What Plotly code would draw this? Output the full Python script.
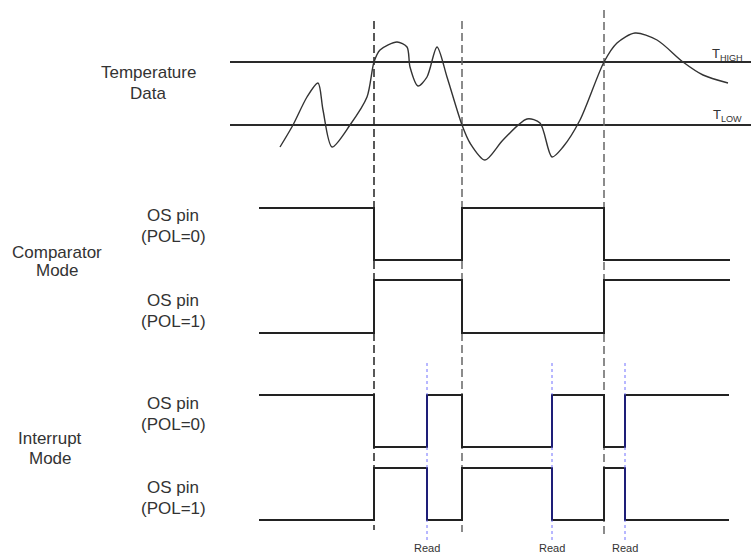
import plotly.graph_objects as go

# Temperature waveform (time, level) (level on a top-down scale)
temp_t = [280, 293, 307, 318, 323, 332, 350, 367, 374, 380, 397, 407, 410, 418, 427, 437, 447, 462,
          470, 485, 503, 527, 540, 552, 563, 580, 604, 617, 635, 657, 683, 703, 728]
temp_v = [147, 125, 97, 83, 110, 147, 125, 97, 62, 50, 42, 47, 67, 86, 77, 47, 77, 125,
          143, 160, 140, 119, 123, 157, 147, 120, 62, 43, 33, 40, 62, 75, 83]
t_high = 62
t_low = 125
threshold_span = [230, 751]

# Events: threshold crossings and host reads
cross_t = [374, 462, 604]
cross_top = [21, 21, 10]
cross_bottom = [530, 532, 535]
read_t = [427, 552, 625]
read_span = [363, 540]
read_labels = ["Read", "Read", "Read"]

# Comparator mode (POL=0) state per segment
comp_edges = [259, 374, 462, 604, 730]
comp_pol0 = [1, 0, 1, 0]
# Interrupt mode (POL=0) state per segment
int_edges = [259, 374, 427, 462, 552, 604, 625, 729]
int_pol0 = [1, 0, 1, 0, 1, 0, 1]

# Lane levels (high, low)
lanes = {
    "comp0": (208, 260),
    "comp1": (280, 333),
    "int0": (395, 447),
    "int1": (468, 520),
}

SIG = "#222222"
fig = go.Figure()

# thresholds
for yv in (t_high, t_low):
    fig.add_trace(go.Scatter(x=threshold_span, y=[yv, yv], mode="lines",
                             line=dict(color="#2a2a2a", width=2), hoverinfo="skip"))

# dashed crossing lines
for i, (xv, y0, y1) in enumerate(zip(cross_t, cross_top, cross_bottom)):
    fig.add_trace(go.Scatter(x=[xv, xv], y=[y0, y1], mode="lines",
                             line=dict(color="#222222" if i == 0 else "#666666", width=1.5,
                                       dash="8px,4px"), hoverinfo="skip"))

# temperature curve
fig.add_trace(go.Scatter(x=temp_t, y=temp_v, mode="lines",
                         line=dict(color="#333333", width=1.4, shape="spline", smoothing=0.8),
                         hoverinfo="skip"))


def wave(edges, states, lane, invert=False):
    hi, lo = lanes[lane]
    xs, ys = [], []
    for k, s in enumerate(states):
        if invert:
            s = 1 - s
        yv = hi if s else lo
        xs += [edges[k], edges[k + 1]]
        ys += [yv, yv]
    return xs, ys


for edges, states, lane, inv in [
    (comp_edges, comp_pol0, "comp0", False),
    (comp_edges, comp_pol0, "comp1", True),
    (int_edges, int_pol0, "int0", False),
    (int_edges, int_pol0, "int1", True),
]:
    xs, ys = wave(edges, states, lane, inv)
    fig.add_trace(go.Scatter(x=xs, y=ys, mode="lines",
                             line=dict(color=SIG, width=2), hoverinfo="skip"))

# read lines
for xv in read_t:
    fig.add_trace(go.Scatter(x=[xv, xv], y=read_span, mode="lines",
                             line=dict(color="#7070ff", width=1, dash="dot"), hoverinfo="skip"))
    for lane in ("int0", "int1"):
        hi, lo = lanes[lane]
        fig.add_trace(go.Scatter(x=[xv, xv], y=[hi, lo], mode="lines",
                                 line=dict(color="#1e1e78", width=2), hoverinfo="skip"))

FONT = "Liberation Sans, Arial, sans-serif"
TXT = "#333333"
texts = [
    ("Temperature", 148, 72), ("Data", 148, 93),
    ("OS pin", 173, 215), ("(POL=0)", 173, 236),
    ("Comparator", 57, 252), ("Mode", 57, 270),
    ("OS pin", 173, 300), ("(POL=1)", 173, 321),
    ("OS pin", 173, 403), ("(POL=0)", 173, 424),
    ("Interrupt", 50, 438), ("Mode", 50, 458),
    ("OS pin", 173, 487), ("(POL=1)", 173, 508),
]
for t, xv, yv in texts:
    fig.add_annotation(x=xv, y=yv, text=t, showarrow=False, borderpad=0,
                       font=dict(family=FONT, size=17, color=TXT), xanchor="center", yanchor="middle")

for lab, xv in zip(read_labels, read_t):
    fig.add_annotation(x=xv, y=548, text=lab, showarrow=False,
                       font=dict(family=FONT, size=11, color=TXT), xanchor="center", yanchor="middle")

fig.add_annotation(x=727, y=54, text="T<sub>HIGH</sub>", showarrow=False,
                   font=dict(family=FONT, size=13, color=TXT), xanchor="center", yanchor="middle")
fig.add_annotation(x=727, y=115, text="T<sub>LOW</sub>", showarrow=False,
                   font=dict(family=FONT, size=13, color=TXT), xanchor="center", yanchor="middle")

fig.update_layout(
    width=751, height=555, showlegend=False,
    margin=dict(l=0, r=0, t=0, b=0),
    plot_bgcolor="white", paper_bgcolor="white",
    xaxis=dict(range=[0, 751], visible=False, fixedrange=True),
    yaxis=dict(range=[555, 0], visible=False, fixedrange=True),
)
fig.write_html("out.html", config={"displayModeBar": False},
               post_script="document.body.style.margin='0px';document.body.style.overflow='hidden';")
